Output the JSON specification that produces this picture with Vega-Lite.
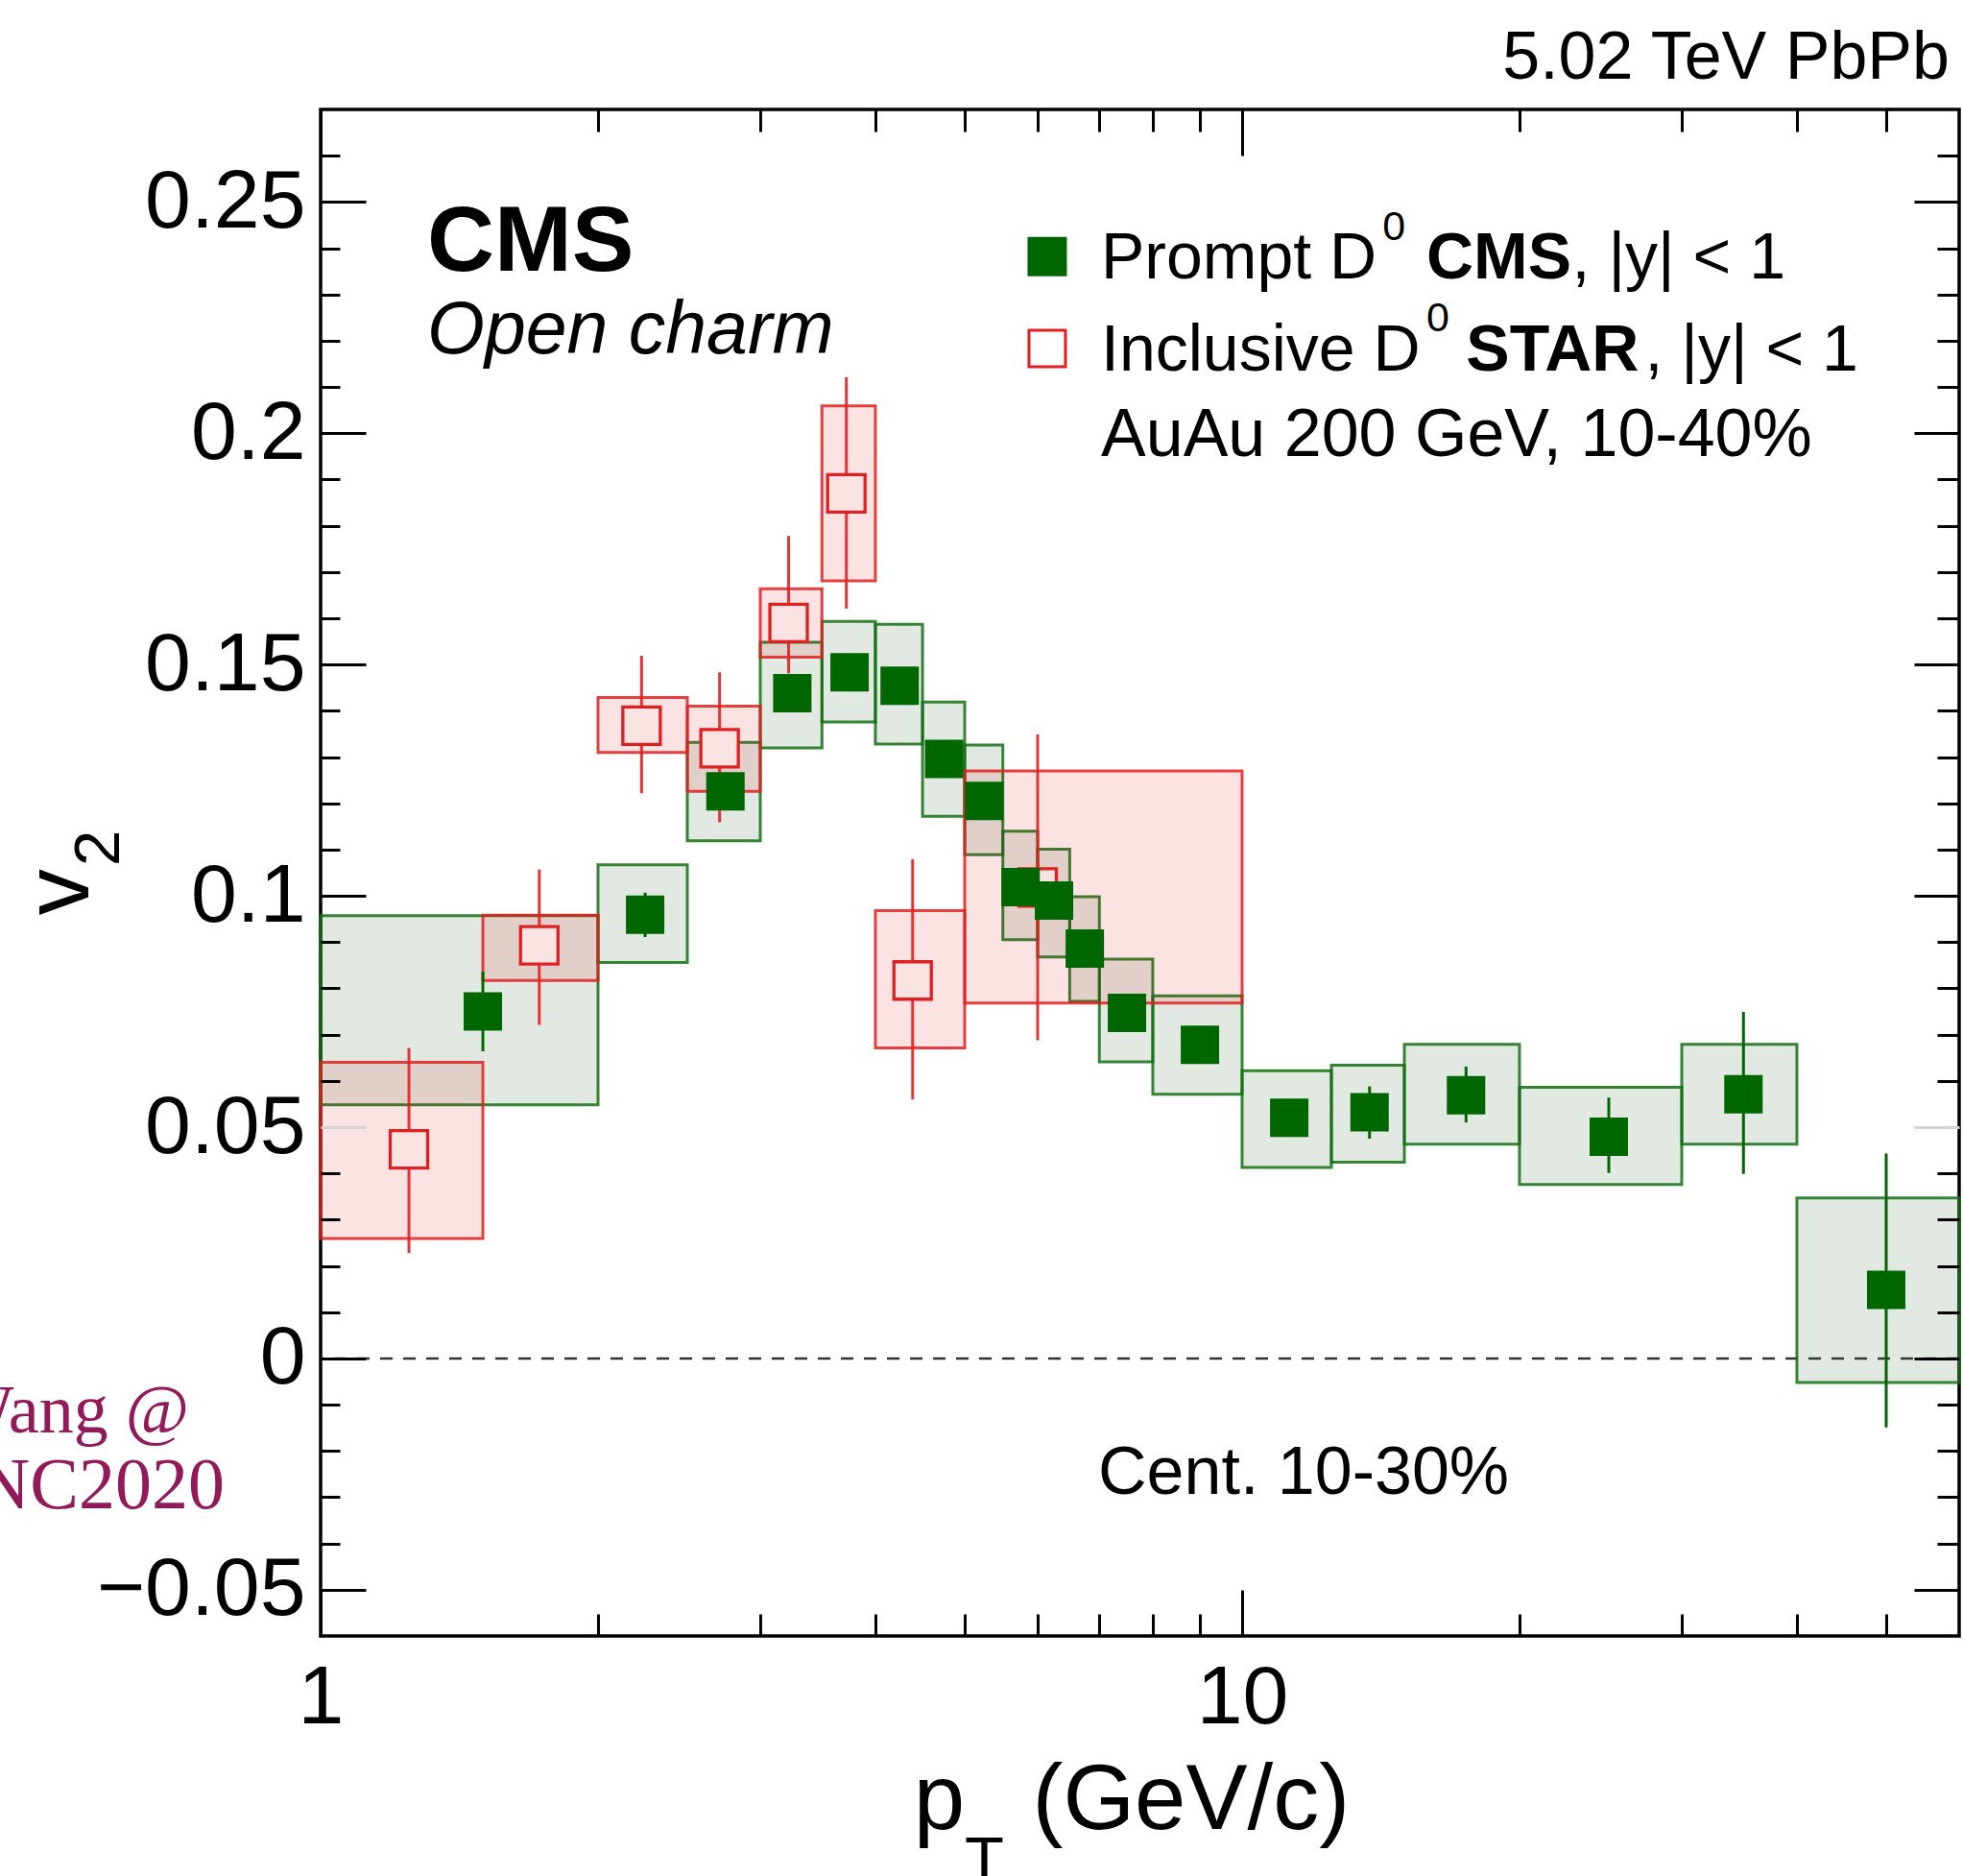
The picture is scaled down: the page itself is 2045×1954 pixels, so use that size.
{
  "$schema": "https://vega.github.io/schema/vega-lite/v6.json",
  "width": 1707,
  "height": 1590,
  "autosize": {"type": "none"},
  "padding": {"left": 334, "top": 114, "right": 4, "bottom": 250},
  "background": "white",
  "config": {
    "font": "Liberation Sans",
    "view": {"stroke": "black", "strokeWidth": 3.5}
  },
  "data": {"values": [{}]},
  "datasets": {
    "cms": [
      {"x": 1.5, "x1": 1, "x2": 2, "v": 0.0750, "sysLo": 0.0548, "sysHi": 0.0957, "errLo": 0.0664, "errHi": 0.0836},
      {"x": 2.25, "x1": 2, "x2": 2.5, "v": 0.0959, "sysLo": 0.0856, "sysHi": 0.1067, "errLo": 0.0911, "errHi": 0.1007},
      {"x": 2.75, "x1": 2.5, "x2": 3, "v": 0.1226, "sysLo": 0.1119, "sysHi": 0.1332, "errLo": 0.1186, "errHi": 0.1266},
      {"x": 3.25, "x1": 3, "x2": 3.5, "v": 0.1438, "sysLo": 0.1320, "sysHi": 0.1548, "errLo": 0.1400, "errHi": 0.1476},
      {"x": 3.75, "x1": 3.5, "x2": 4, "v": 0.1483, "sysLo": 0.1376, "sysHi": 0.1593, "errLo": 0.1445, "errHi": 0.1521},
      {"x": 4.25, "x1": 4, "x2": 4.5, "v": 0.1454, "sysLo": 0.1328, "sysHi": 0.1587, "errLo": 0.1416, "errHi": 0.1492},
      {"x": 4.75, "x1": 4.5, "x2": 5, "v": 0.1296, "sysLo": 0.1172, "sysHi": 0.1419, "errLo": 0.1258, "errHi": 0.1334},
      {"x": 5.25, "x1": 5, "x2": 5.5, "v": 0.1205, "sysLo": 0.1089, "sysHi": 0.1326, "errLo": 0.1167, "errHi": 0.1243},
      {"x": 5.75, "x1": 5.5, "x2": 6, "v": 0.1019, "sysLo": 0.0905, "sysHi": 0.1140, "errLo": 0.0981, "errHi": 0.1057},
      {"x": 6.25, "x1": 6, "x2": 6.5, "v": 0.0990, "sysLo": 0.0868, "sysHi": 0.1101, "errLo": 0.0952, "errHi": 0.1028},
      {"x": 6.75, "x1": 6.5, "x2": 7, "v": 0.0886, "sysLo": 0.0772, "sysHi": 0.0998, "errLo": 0.0848, "errHi": 0.0924},
      {"x": 7.5, "x1": 7, "x2": 8, "v": 0.0747, "sysLo": 0.0641, "sysHi": 0.0863, "errLo": 0.0709, "errHi": 0.0785},
      {"x": 9, "x1": 8, "x2": 10, "v": 0.0678, "sysLo": 0.0571, "sysHi": 0.0784, "errLo": 0.0640, "errHi": 0.0716},
      {"x": 11.25, "x1": 10, "x2": 12.5, "v": 0.0520, "sysLo": 0.0413, "sysHi": 0.0622, "errLo": 0.0482, "errHi": 0.0558},
      {"x": 13.75, "x1": 12.5, "x2": 15, "v": 0.0532, "sysLo": 0.0424, "sysHi": 0.0634, "errLo": 0.0475, "errHi": 0.0588},
      {"x": 17.5, "x1": 15, "x2": 20, "v": 0.0569, "sysLo": 0.0463, "sysHi": 0.0679, "errLo": 0.0510, "errHi": 0.0631},
      {"x": 25, "x1": 20, "x2": 30, "v": 0.0479, "sysLo": 0.0376, "sysHi": 0.0586, "errLo": 0.0401, "errHi": 0.0564},
      {"x": 35, "x1": 30, "x2": 40, "v": 0.0571, "sysLo": 0.0463, "sysHi": 0.0679, "errLo": 0.0399, "errHi": 0.0749},
      {"x": 50, "x1": 40, "x2": 60, "v": 0.0148, "sysLo": -0.0052, "sysHi": 0.0347, "errLo": -0.0149, "errHi": 0.0443}
    ],
    "star": [
      {"x": 1.247, "x1": 1, "x2": 1.5, "v": 0.0452, "sysLo": 0.0259, "sysHi": 0.0640, "errLo": 0.0228, "errHi": 0.0671},
      {"x": 1.727, "x1": 1.5, "x2": 2, "v": 0.0893, "sysLo": 0.0817, "sysHi": 0.0958, "errLo": 0.0721, "errHi": 0.1057},
      {"x": 2.23, "x1": 2, "x2": 2.5, "v": 0.1368, "sysLo": 0.1310, "sysHi": 0.1429, "errLo": 0.1222, "errHi": 0.1519},
      {"x": 2.71, "x1": 2.5, "x2": 3, "v": 0.1319, "sysLo": 0.1226, "sysHi": 0.1410, "errLo": 0.1159, "errHi": 0.1483},
      {"x": 3.22, "x1": 3, "x2": 3.5, "v": 0.1590, "sysLo": 0.1516, "sysHi": 0.1664, "errLo": 0.1481, "errHi": 0.1778},
      {"x": 3.72, "x1": 3.5, "x2": 4, "v": 0.1870, "sysLo": 0.1681, "sysHi": 0.2059, "errLo": 0.1621, "errHi": 0.2121},
      {"x": 4.39, "x1": 4, "x2": 5, "v": 0.0817, "sysLo": 0.0671, "sysHi": 0.0968, "errLo": 0.0560, "errHi": 0.1079},
      {"x": 6.0, "x1": 5, "x2": 10, "v": 0.1018, "sysLo": 0.0768, "sysHi": 0.1270, "errLo": 0.0688, "errHi": 0.1349}
    ]
  },
  "layer": [
    {
      "mark": {"type": "rule", "color": "#333333", "strokeWidth": 2.5, "strokeDash": [13, 11]},
      "encoding": {
        "y": {"datum": 0, "type": "quantitative", "scale": {"domain": [-0.06, 0.27], "nice": false, "zero": false}, "axis": null}
      }
    },
    {
      "data": {"name": "cms"},
      "mark": {"type": "rect", "fill": "#3d6b3d", "fillOpacity": 0.15, "stroke": "#157015", "strokeOpacity": 0.85, "strokeWidth": 3},
      "encoding": {
        "x": {"field": "x1", "type": "quantitative", "scale": {"type": "log", "domain": [1, 60], "nice": false},
          "axis": {"orient": "bottom", "values": [1, 10], "format": "~g", "ticks": false, "tickSize": 0, "domain": false, "grid": false, "title": null,
            "labelFont": "Liberation Sans", "labelFontSize": 86, "labelColor": "black", "labelPadding": 22, "labelFlush": false, "labelOverlap": false, "labelLimit": 0}},
        "x2": {"field": "x2"},
        "y": {"field": "sysLo", "type": "quantitative", "scale": {"domain": [-0.06, 0.27], "nice": false, "zero": false},
          "axis": {"orient": "left", "values": [-0.05, 0, 0.05, 0.1, 0.15, 0.2, 0.25], "format": "~g", "ticks": false, "tickSize": 0, "domain": false, "grid": false, "title": null,
            "labelFont": "Liberation Sans", "labelFontSize": 86, "labelColor": "black", "labelPadding": 16, "labelFlush": false, "labelOverlap": false, "labelLimit": 0}},
        "y2": {"field": "sysHi"}
      }
    },
    {
      "data": {"name": "star"},
      "mark": {"type": "rect", "fill": "#dd0000", "fillOpacity": 0.11, "stroke": "#e02020", "strokeOpacity": 0.85, "strokeWidth": 3},
      "encoding": {
        "x": {"field": "x1", "type": "quantitative", "scale": {"type": "log", "domain": [1, 60], "nice": false},
          "axis": {"orient": "bottom", "values": [1, 2, 3, 4, 5, 6, 7, 8, 9, 10, 20, 30, 40, 50], "labels": false, "domain": false, "grid": false, "title": null, "zindex": 1,
            "tickColor": "black", "tickWidth": 3,
            "tickSize": {"condition": {"test": "datum.value == 1 || datum.value == 10", "value": -48}, "value": -23}}},
        "x2": {"field": "x2"},
        "y": {"field": "sysLo", "type": "quantitative", "scale": {"domain": [-0.06, 0.27], "nice": false, "zero": false},
          "axis": {"orient": "left", "values": [-0.05, -0.04, -0.03, -0.02, -0.01, 0, 0.01, 0.02, 0.03, 0.04, 0.05, 0.06, 0.07, 0.08, 0.09, 0.1, 0.11, 0.12, 0.13, 0.14, 0.15, 0.16, 0.17, 0.18, 0.19, 0.2, 0.21, 0.22, 0.23, 0.24, 0.25, 0.26],
            "labels": false, "domain": false, "grid": false, "title": null, "zindex": 1, "tickWidth": 3,
            "tickColor": {"condition": {"test": "abs(datum.value - 0.05) < 0.0001", "value": "#d4d4d4"}, "value": "black"},
            "tickSize": {"condition": {"test": "abs(datum.value * 20 - round(datum.value * 20)) < 0.001", "value": -47}, "value": -20}}},
        "y2": {"field": "sysHi"}
      }
    },
    {
      "data": {"name": "star"},
      "mark": {"type": "rule", "color": "#e02020", "strokeWidth": 3, "opacity": 0.9},
      "encoding": {
        "x": {"field": "x", "type": "quantitative", "scale": {"type": "log", "domain": [1, 60], "nice": false},
          "axis": {"orient": "top", "values": [1, 2, 3, 4, 5, 6, 7, 8, 9, 10, 20, 30, 40, 50], "labels": false, "domain": false, "grid": false, "title": null, "zindex": 1,
            "tickColor": "black", "tickWidth": 3,
            "tickSize": {"condition": {"test": "datum.value == 1 || datum.value == 10", "value": -48}, "value": -23}}},
        "y": {"field": "errLo", "type": "quantitative", "scale": {"domain": [-0.06, 0.27], "nice": false, "zero": false},
          "axis": {"orient": "right", "values": [-0.05, -0.04, -0.03, -0.02, -0.01, 0, 0.01, 0.02, 0.03, 0.04, 0.05, 0.06, 0.07, 0.08, 0.09, 0.1, 0.11, 0.12, 0.13, 0.14, 0.15, 0.16, 0.17, 0.18, 0.19, 0.2, 0.21, 0.22, 0.23, 0.24, 0.25, 0.26],
            "labels": false, "domain": false, "grid": false, "title": null, "zindex": 1, "tickWidth": 3,
            "tickColor": {"condition": {"test": "abs(datum.value - 0.05) < 0.0001", "value": "#d4d4d4"}, "value": "black"},
            "tickSize": {"condition": {"test": "abs(datum.value * 20 - round(datum.value * 20)) < 0.001", "value": -47}, "value": -23}}},
        "y2": {"field": "errHi"}
      }
    },
    {
      "data": {"name": "star"},
      "mark": {"type": "point", "shape": "square", "size": 1521, "filled": true, "fill": "#f9e3e3", "stroke": "#e02020", "strokeWidth": 3.3, "opacity": 1},
      "encoding": {
        "x": {"field": "x", "type": "quantitative", "scale": {"type": "log", "domain": [1, 60], "nice": false}, "axis": null},
        "y": {"field": "v", "type": "quantitative", "scale": {"domain": [-0.06, 0.27], "nice": false, "zero": false}, "axis": null}
      }
    },
    {
      "data": {"name": "cms"},
      "mark": {"type": "rule", "color": "#006600", "strokeWidth": 3},
      "encoding": {
        "x": {"field": "x", "type": "quantitative", "scale": {"type": "log", "domain": [1, 60], "nice": false}, "axis": null},
        "y": {"field": "errLo", "type": "quantitative", "scale": {"domain": [-0.06, 0.27], "nice": false, "zero": false}, "axis": null},
        "y2": {"field": "errHi"}
      }
    },
    {
      "data": {"name": "cms"},
      "mark": {"type": "point", "shape": "square", "size": 1600, "filled": true, "color": "#006600", "opacity": 1, "strokeWidth": 0},
      "encoding": {
        "x": {"field": "x", "type": "quantitative", "scale": {"type": "log", "domain": [1, 60], "nice": false}, "axis": null},
        "y": {"field": "v", "type": "quantitative", "scale": {"domain": [-0.06, 0.27], "nice": false, "zero": false}, "axis": null}
      }
    },
    {
      "mark": {"type": "point", "shape": "square", "size": 1681, "filled": true, "color": "#006600", "opacity": 1, "strokeWidth": 0},
      "encoding": {
        "x": {"datum": 6.145, "type": "quantitative", "scale": {"type": "log", "domain": [1, 60], "nice": false}, "axis": null},
        "y": {"datum": 0.2382, "type": "quantitative", "scale": {"domain": [-0.06, 0.27], "nice": false, "zero": false}, "axis": null}
      }
    },
    {
      "mark": {"type": "point", "shape": "square", "size": 1444, "filled": true, "fill": "white", "stroke": "#e02020", "strokeWidth": 3, "opacity": 1},
      "encoding": {
        "x": {"datum": 6.145, "type": "quantitative", "scale": {"type": "log", "domain": [1, 60], "nice": false}, "axis": null},
        "y": {"datum": 0.2183, "type": "quantitative", "scale": {"domain": [-0.06, 0.27], "nice": false, "zero": false}, "axis": null}
      }
    },
    {
      "mark": {"type": "text", "text": "5.02 TeV PbPb", "font": "Liberation Sans", "fontSize": 70, "align": "right", "baseline": "alphabetic", "color": "black"},
      "encoding": {
        "x": {"datum": 58.57, "type": "quantitative", "scale": {"type": "log", "domain": [1, 60], "nice": false}, "axis": null},
        "y": {"datum": 0.2766, "type": "quantitative", "scale": {"domain": [-0.06, 0.27], "nice": false, "zero": false}, "axis": null}
      }
    },
    {
      "mark": {"type": "text", "text": "CMS", "font": "Liberation Sans", "fontSize": 97, "fontWeight": "bold", "align": "left", "baseline": "alphabetic", "color": "black"},
      "encoding": {
        "x": {"datum": 1.305, "type": "quantitative", "scale": {"type": "log", "domain": [1, 60], "nice": false}, "axis": null},
        "y": {"datum": 0.2351, "type": "quantitative", "scale": {"domain": [-0.06, 0.27], "nice": false, "zero": false}, "axis": null}
      }
    },
    {
      "mark": {"type": "text", "text": "Open charm", "font": "Liberation Sans", "fontSize": 77, "fontStyle": "italic", "align": "left", "baseline": "alphabetic", "color": "black"},
      "encoding": {
        "x": {"datum": 1.305, "type": "quantitative", "scale": {"type": "log", "domain": [1, 60], "nice": false}, "axis": null},
        "y": {"datum": 0.2172, "type": "quantitative", "scale": {"domain": [-0.06, 0.27], "nice": false, "zero": false}, "axis": null}
      }
    },
    {
      "mark": {"type": "text", "text": "Prompt D", "font": "Liberation Sans", "fontSize": 68, "align": "left", "baseline": "alphabetic", "color": "black"},
      "encoding": {
        "x": {"datum": 7.029, "type": "quantitative", "scale": {"type": "log", "domain": [1, 60], "nice": false}, "axis": null},
        "y": {"datum": 0.2334, "type": "quantitative", "scale": {"domain": [-0.06, 0.27], "nice": false, "zero": false}, "axis": null}
      }
    },
    {
      "mark": {"type": "text", "text": "0", "font": "Liberation Sans", "fontSize": 43, "align": "left", "baseline": "alphabetic", "color": "black"},
      "encoding": {
        "x": {"datum": 14.2, "type": "quantitative", "scale": {"type": "log", "domain": [1, 60], "nice": false}, "axis": null},
        "y": {"datum": 0.2418, "type": "quantitative", "scale": {"domain": [-0.06, 0.27], "nice": false, "zero": false}, "axis": null}
      }
    },
    {
      "mark": {"type": "text", "text": "CMS", "font": "Liberation Sans", "fontSize": 68, "fontWeight": "bold", "align": "left", "baseline": "alphabetic", "color": "black"},
      "encoding": {
        "x": {"datum": 15.85, "type": "quantitative", "scale": {"type": "log", "domain": [1, 60], "nice": false}, "axis": null},
        "y": {"datum": 0.2334, "type": "quantitative", "scale": {"domain": [-0.06, 0.27], "nice": false, "zero": false}, "axis": null}
      }
    },
    {
      "mark": {"type": "text", "text": ", |y| < 1", "font": "Liberation Sans", "fontSize": 68, "align": "left", "baseline": "alphabetic", "color": "black"},
      "encoding": {
        "x": {"datum": 22.8, "type": "quantitative", "scale": {"type": "log", "domain": [1, 60], "nice": false}, "axis": null},
        "y": {"datum": 0.2334, "type": "quantitative", "scale": {"domain": [-0.06, 0.27], "nice": false, "zero": false}, "axis": null}
      }
    },
    {
      "mark": {"type": "text", "text": "Inclusive D", "font": "Liberation Sans", "fontSize": 68, "align": "left", "baseline": "alphabetic", "color": "black"},
      "encoding": {
        "x": {"datum": 7.029, "type": "quantitative", "scale": {"type": "log", "domain": [1, 60], "nice": false}, "axis": null},
        "y": {"datum": 0.2135, "type": "quantitative", "scale": {"domain": [-0.06, 0.27], "nice": false, "zero": false}, "axis": null}
      }
    },
    {
      "mark": {"type": "text", "text": "0", "font": "Liberation Sans", "fontSize": 43, "align": "left", "baseline": "alphabetic", "color": "black"},
      "encoding": {
        "x": {"datum": 15.85, "type": "quantitative", "scale": {"type": "log", "domain": [1, 60], "nice": false}, "axis": null},
        "y": {"datum": 0.2221, "type": "quantitative", "scale": {"domain": [-0.06, 0.27], "nice": false, "zero": false}, "axis": null}
      }
    },
    {
      "mark": {"type": "text", "text": "STAR", "font": "Liberation Sans", "fontSize": 68, "fontWeight": "bold", "align": "left", "baseline": "alphabetic", "color": "black"},
      "encoding": {
        "x": {"datum": 17.5, "type": "quantitative", "scale": {"type": "log", "domain": [1, 60], "nice": false}, "axis": null},
        "y": {"datum": 0.2135, "type": "quantitative", "scale": {"domain": [-0.06, 0.27], "nice": false, "zero": false}, "axis": null}
      }
    },
    {
      "mark": {"type": "text", "text": ", |y| < 1", "font": "Liberation Sans", "fontSize": 68, "align": "left", "baseline": "alphabetic", "color": "black"},
      "encoding": {
        "x": {"datum": 27.35, "type": "quantitative", "scale": {"type": "log", "domain": [1, 60], "nice": false}, "axis": null},
        "y": {"datum": 0.2135, "type": "quantitative", "scale": {"domain": [-0.06, 0.27], "nice": false, "zero": false}, "axis": null}
      }
    },
    {
      "mark": {"type": "text", "text": "AuAu 200 GeV, 10-40%", "font": "Liberation Sans", "fontSize": 70, "align": "left", "baseline": "alphabetic", "color": "black"},
      "encoding": {
        "x": {"datum": 7.029, "type": "quantitative", "scale": {"type": "log", "domain": [1, 60], "nice": false}, "axis": null},
        "y": {"datum": 0.1950, "type": "quantitative", "scale": {"domain": [-0.06, 0.27], "nice": false, "zero": false}, "axis": null}
      }
    },
    {
      "mark": {"type": "text", "text": "Cent. 10-30%", "font": "Liberation Sans", "fontSize": 70, "align": "left", "baseline": "alphabetic", "color": "black"},
      "encoding": {
        "x": {"datum": 6.979, "type": "quantitative", "scale": {"type": "log", "domain": [1, 60], "nice": false}, "axis": null},
        "y": {"datum": -0.02925, "type": "quantitative", "scale": {"domain": [-0.06, 0.27], "nice": false, "zero": false}, "axis": null}
      }
    },
    {
      "mark": {"type": "text", "text": "p", "font": "Liberation Sans", "fontSize": 96, "align": "left", "baseline": "alphabetic", "color": "black"},
      "encoding": {
        "x": {"datum": 4.40, "type": "quantitative", "scale": {"type": "log", "domain": [1, 60], "nice": false}, "axis": null},
        "y": {"datum": -0.1017, "type": "quantitative", "scale": {"domain": [-0.06, 0.27], "nice": false, "zero": false}, "axis": null}
      }
    },
    {
      "mark": {"type": "text", "text": "T", "font": "Liberation Sans", "fontSize": 67, "align": "left", "baseline": "alphabetic", "color": "black"},
      "encoding": {
        "x": {"datum": 5.001, "type": "quantitative", "scale": {"type": "log", "domain": [1, 60], "nice": false}, "axis": null},
        "y": {"datum": -0.1131, "type": "quantitative", "scale": {"domain": [-0.06, 0.27], "nice": false, "zero": false}, "axis": null}
      }
    },
    {
      "mark": {"type": "text", "text": "(GeV/c)", "font": "Liberation Sans", "fontSize": 96, "align": "left", "baseline": "alphabetic", "color": "black"},
      "encoding": {
        "x": {"datum": 5.92, "type": "quantitative", "scale": {"type": "log", "domain": [1, 60], "nice": false}, "axis": null},
        "y": {"datum": -0.1017, "type": "quantitative", "scale": {"domain": [-0.06, 0.27], "nice": false, "zero": false}, "axis": null}
      }
    },
    {
      "mark": {"type": "text", "text": "v", "font": "Liberation Sans", "fontSize": 96, "angle": 270, "align": "center", "baseline": "alphabetic", "color": "black"},
      "encoding": {
        "x": {"datum": 0.5597, "type": "quantitative", "scale": {"type": "log", "domain": [1, 60], "nice": false}, "axis": null},
        "y": {"datum": 0.1008, "type": "quantitative", "scale": {"domain": [-0.06, 0.27], "nice": false, "zero": false}, "axis": null}
      }
    },
    {
      "mark": {"type": "text", "text": "2", "font": "Liberation Sans", "fontSize": 67, "angle": 270, "align": "center", "baseline": "alphabetic", "color": "black"},
      "encoding": {
        "x": {"datum": 0.6043, "type": "quantitative", "scale": {"type": "log", "domain": [1, 60], "nice": false}, "axis": null},
        "y": {"datum": 0.1103, "type": "quantitative", "scale": {"domain": [-0.06, 0.27], "nice": false, "zero": false}, "axis": null}
      }
    },
    {
      "mark": {"type": "text", "text": "Wang @", "font": "Liberation Serif", "fontSize": 72, "align": "right", "baseline": "alphabetic", "color": "#921a5b"},
      "encoding": {
        "x": {"datum": 0.7199, "type": "quantitative", "scale": {"type": "log", "domain": [1, 60], "nice": false}, "axis": null},
        "y": {"datum": -0.0160, "type": "quantitative", "scale": {"domain": [-0.06, 0.27], "nice": false, "zero": false}, "axis": null}
      }
    },
    {
      "mark": {"type": "text", "text": "NC2020", "font": "Liberation Serif", "fontSize": 76, "align": "right", "baseline": "alphabetic", "color": "#921a5b"},
      "encoding": {
        "x": {"datum": 0.7866, "type": "quantitative", "scale": {"type": "log", "domain": [1, 60], "nice": false}, "axis": null},
        "y": {"datum": -0.0324, "type": "quantitative", "scale": {"domain": [-0.06, 0.27], "nice": false, "zero": false}, "axis": null}
      }
    }
  ],
  "resolve": {"axis": {"x": "independent", "y": "independent"}}
}
